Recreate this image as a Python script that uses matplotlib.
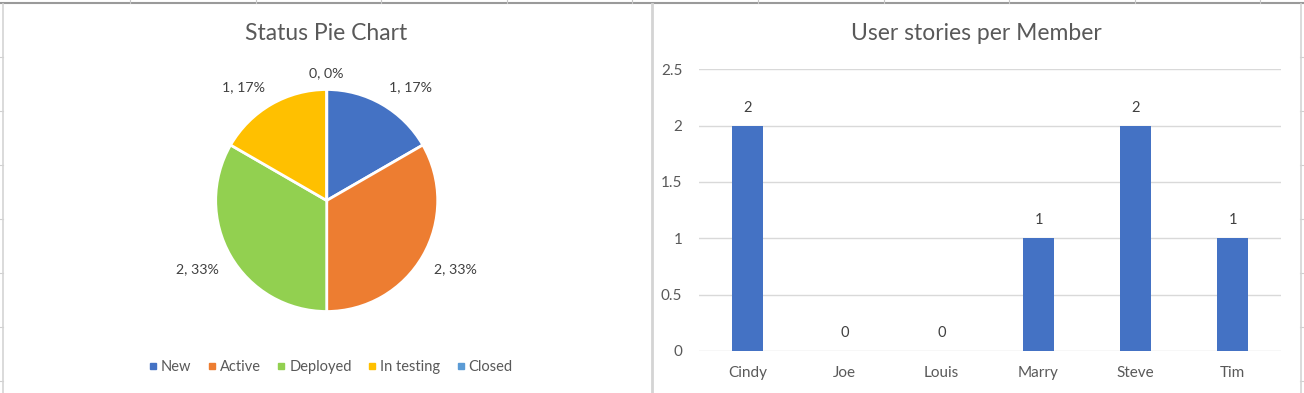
import numpy as np
import matplotlib
matplotlib.use("Agg")
import matplotlib.pyplot as plt
from matplotlib.lines import Line2D

plt.rcParams['font.family'] = ['Lato', 'DejaVu Sans']

# status pie data
status_labels = ['New', 'Active', 'Deployed', 'In testing', 'Closed']
status_counts = [1, 2, 2, 1, 0]
status_colors = ['#4472C4', '#ED7D31', '#92D050', '#FFC000', '#5B9BD5']

# user stories per member
members = ['Cindy', 'Joe', 'Louis', 'Marry', 'Steve', 'Tim']
stories = [2, 0, 0, 1, 2, 1]
y_ticks = [0, 0.5, 1, 1.5, 2, 2.5]
y_tick_labels = ['0', '0.5', '1', '1.5', '2', '2.5']

W, H = 1304, 393
TXT = '#595959'
LBL = '#404040'
fig = plt.figure(figsize=(W / 100, H / 100), dpi=100)
fig.patch.set_facecolor('white')


def fx(px):
    return px / W


def fy(py):
    return 1 - py / H


# spreadsheet background bits (grid ticks + chart borders)
bg = dict(transform=fig.transFigure, clip_on=False)
fig.add_artist(Line2D([0, 1], [fy(3), fy(3)], color='#9a9a9a', lw=1.5, **bg))
for gx in np.arange(130, W, 125.6):
    fig.add_artist(Line2D([fx(gx), fx(gx)], [1, fy(3)], color='#c8c8c8', lw=0.8, **bg))
for ry in np.arange(57, H, 54):
    fig.add_artist(Line2D([0, fx(3)], [fy(ry), fy(ry)], color='#d0d0d0', lw=0.8, **bg))
    fig.add_artist(Line2D([fx(1300), 1], [fy(ry), fy(ry)], color='#d0d0d0', lw=0.8, **bg))
for bx, lw in [(3, 1.2), (651.5, 2.0), (1300.5, 1.2)]:
    fig.add_artist(Line2D([fx(bx), fx(bx)], [fy(4), 0], color='#d4d4d4', lw=lw, **bg))

# ---------------- pie chart ----------------
cx, cy, r = 326.7, 200.5, 111
ax1 = fig.add_axes([fx(cx - r), fy(cy + r), fx(2 * r), 2 * r / H])
total = sum(status_counts)
wedges, _ = ax1.pie(
    status_counts, colors=status_colors, startangle=90, counterclock=False,
    wedgeprops=dict(edgecolor='white', linewidth=2))
ax1.set_xlim(-1, 1)
ax1.set_ylim(-1, 1)
ax1.set_aspect('auto')

# data labels, outside end like excel
for w, v in zip(wedges, status_counts):
    mid = np.deg2rad((w.theta1 + w.theta2) / 2)
    lx, ly = 1.12 * np.cos(mid), 1.12 * np.sin(mid)
    if abs(lx) < 0.05:
        ha = 'center'
        ly = 1.09
    else:
        ha = 'left' if lx > 0 else 'right'
    va = 'bottom' if ly > 0 else 'top'
    pct = 100.0 * v / total
    ax1.text(lx, ly, '%d, %d%%' % (v, round(pct)), ha=ha, va=va,
             fontsize=10.2, color=LBL)

fig.text(fx(326.5), fy(33.5), 'Status Pie Chart', ha='center', va='center',
         fontsize=16.5, color=TXT)

handles = [Line2D([], [], marker='s', ls='none', markersize=5,
                  markerfacecolor=c, markeredgecolor=c) for c in status_colors]
fig.legend(handles, status_labels, loc='center', bbox_to_anchor=(fx(331), fy(367)),
           ncol=5, frameon=False, handlelength=0.5, handletextpad=0.3,
           columnspacing=1.15, labelcolor=TXT, prop=dict(size=10.5))

# ---------------- bar chart ----------------
ax2 = fig.add_axes([fx(699), fy(351), fx(1281 - 699), (351 - 69.3) / H])
x = np.arange(len(members))
ax2.bar(x, stories, width=0.32, color='#4472C4', zorder=3)
ax2.set_xlim(-0.5, len(members) - 0.5)
ax2.set_ylim(0, 2.5)
ax2.set_yticks(y_ticks)
ax2.set_yticklabels(y_tick_labels)
ax2.set_xticks(x)
ax2.set_xticklabels(members)
ax2.tick_params(length=0, colors=TXT, labelsize=11)
ax2.tick_params(axis='x', pad=10.5)
ax2.tick_params(axis='y', pad=12)
ax2.grid(axis='y', color='#d9d9d9', lw=1, zorder=0)
for s in ax2.spines.values():
    s.set_visible(False)
for xi, v in zip(x, stories):
    ax2.annotate(str(v), (xi, v), xytext=(0, 13), textcoords='offset points',
                 ha='center', va='center', fontsize=10.5, color=LBL)
fig.text(fx(976), fy(33.5), 'User stories per Member', ha='center', va='center',
         fontsize=16.5, color=TXT)

fig.savefig('out.png', dpi=100, facecolor='white')
